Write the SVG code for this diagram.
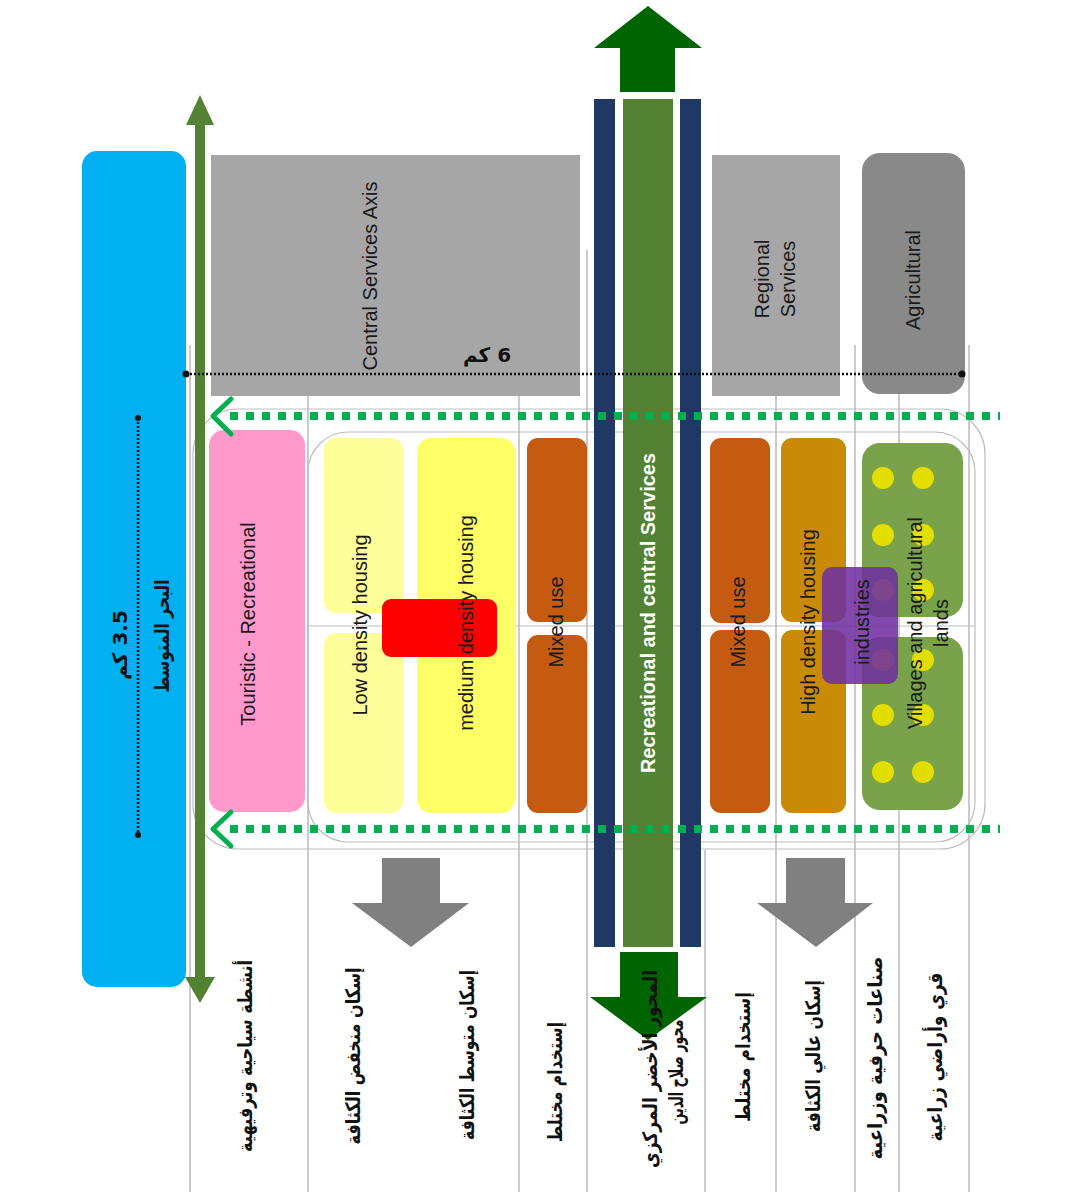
<svg xmlns="http://www.w3.org/2000/svg" width="1080" height="1201" viewBox="0 0 1080 1201">
<style>
.lbl{font-family:"Liberation Sans",Arial,sans-serif;font-size:20px;fill:#1a1a1a;text-anchor:middle;dominant-baseline:central}
.ar{font-family:"DejaVu Sans","Noto Sans",sans-serif;font-weight:bold;font-size:20px;fill:#111;text-anchor:middle;dominant-baseline:central}
.div{stroke:#a8a8a8;stroke-width:1.2;fill:none}
.outl{stroke:#bdbdbd;stroke-width:1.2;fill:none}
.gdot{stroke:#00b050;stroke-width:8;stroke-dasharray:8 8;fill:none}
.chev{stroke:#00b050;stroke-width:5;stroke-linecap:round;stroke-linejoin:round;fill:none}
.mixed{fill:#c55a11}
.high{fill:#c98a06}
.vil{fill:#79a24a}
.dot{fill:#e2df00}
.garrow{fill:#808080}
</style>
<rect width="1080" height="1201" fill="#ffffff"/>

<!-- column dividers -->
<g id="dividers">
<line class="div" x1="190" y1="345" x2="190" y2="1192"/>
<line class="div" x1="308" y1="345" x2="308" y2="1192"/>
<line class="div" x1="519" y1="345" x2="519" y2="1192"/>
<line class="div" x1="587" y1="250" x2="587" y2="1192"/>
<line class="div" x1="705" y1="850" x2="705" y2="1192"/>
<line class="div" x1="776" y1="345" x2="776" y2="1192"/>
<line class="div" x1="855" y1="345" x2="855" y2="1192"/>
<line class="div" x1="899" y1="345" x2="899" y2="1192"/>
<line class="div" x1="969" y1="345" x2="969" y2="1192"/>
</g>

<g id="outlines">
<rect class="outl" x="193" y="409" width="792" height="440" rx="45"/>
<rect class="outl" x="308" y="432" width="667" height="410" rx="40"/>
<line class="outl" x1="308" y1="626" x2="975" y2="626"/>
</g>

<g id="sea">
<rect x="82" y="151" width="104" height="836" rx="15" fill="#00b0f0"/>
<line x1="138" y1="418" x2="138" y2="835" stroke="#111" stroke-width="2.5" stroke-dasharray="2 2"/>
<circle cx="138" cy="418" r="3" fill="#111"/>
<circle cx="138" cy="835" r="3" fill="#111"/>
<text class="ar" font-size="22" direction="rtl" transform="translate(120,645) rotate(-90)">3.5 كم</text>
<text class="ar" font-size="18" textLength="113" lengthAdjust="spacingAndGlyphs" transform="translate(162,636) rotate(-90)">البحر المتوسط</text>
</g>

<g id="coast-arrow">
<rect x="195" y="122" width="10" height="858" fill="#548235"/>
<polygon points="200,95 214,125 186,125" fill="#548235"/>
<polygon points="200,1003 215,977 185,977" fill="#548235"/>
</g>

<g id="central-services-axis">
<rect x="211" y="155" width="369" height="241" fill="#a6a6a6"/>
<text class="lbl" transform="translate(370,276) rotate(-90)">Central Services Axis</text>
</g>

<g id="regional-services">
<rect x="712" y="155" width="128" height="241" fill="#a6a6a6"/>
<text class="lbl" transform="translate(762,279) rotate(-90)">Regional</text>
<text class="lbl" transform="translate(788,279) rotate(-90)">Services</text>
</g>

<g id="agricultural">
<rect x="862" y="153" width="103" height="241" rx="18" fill="#898989"/>
<text class="lbl" transform="translate(913,280) rotate(-90)">Agricultural</text>
</g>

<g id="green-axis">
<rect x="594" y="99" width="21" height="848" fill="#1f3864"/>
<rect x="623" y="99" width="50" height="848" fill="#548235"/>
<rect x="680" y="99" width="21" height="848" fill="#1f3864"/>
<polygon points="648,6 702,48 675,48 675,92 620,92 620,48 594,48" fill="#006400"/>
<polygon points="620,952 678,952 678,997 707,997 648,1040 590,997 620,997" fill="#006400"/>
<text class="lbl" font-weight="bold" font-size="17.5" style="fill:#ffffff" transform="translate(648,613) rotate(-90)">Recreational and central Services</text>
</g>

<g id="dimension-6km">
<line x1="186" y1="374" x2="962" y2="374" stroke="#111" stroke-width="2.5" stroke-dasharray="2 2"/>
<circle cx="186" cy="374" r="3.5" fill="#111"/>
<circle cx="962" cy="374" r="3.5" fill="#111"/>
<text class="ar" font-size="24" direction="rtl" x="487" y="355">6 كم</text>
</g>

<g id="touristic">
<rect x="209" y="430" width="96" height="382" rx="15" fill="#ff99cc"/>
<text class="lbl" transform="translate(248,624) rotate(-90)">Touristic - Recreational</text>
</g>

<g id="low-density">
<rect x="324" y="438" width="79" height="175" rx="12" fill="#ffff99"/>
<rect x="324" y="633" width="79" height="180" rx="12" fill="#ffff99"/>
</g>

<g id="medium-density">
<rect x="417" y="438" width="98" height="375" rx="14" fill="#ffff66"/>
</g>

<g id="red-block">
<rect x="382" y="599" width="115" height="58" rx="9" fill="#ff0000"/>
</g>
<text class="lbl" transform="translate(360,625) rotate(-90)">Low density housing</text>
<text class="lbl" transform="translate(466,623) rotate(-90)">medium density housing</text>

<g id="mixed-left">
<rect class="mixed" x="527" y="438" width="60" height="184" rx="11"/>
<rect class="mixed" x="527" y="635" width="60" height="178" rx="11"/>
<text class="lbl" transform="translate(556,622) rotate(-90)">Mixed use</text>
</g>

<g id="mixed-right">
<rect class="mixed" x="710" y="438" width="60" height="185" rx="11"/>
<rect class="mixed" x="710" y="630" width="60" height="183" rx="11"/>
</g>

<g id="high-density">
<rect class="high" x="781" y="438" width="65" height="184" rx="11"/>
<rect class="high" x="781" y="630" width="65" height="183" rx="11"/>
</g>

<g id="villages">
<rect class="vil" x="862" y="443" width="101" height="174" rx="18"/>
<rect class="vil" x="862" y="637" width="101" height="173" rx="18"/>
<circle class="dot" cx="883" cy="478" r="11"/><circle class="dot" cx="923" cy="478" r="11"/>
<circle class="dot" cx="883" cy="535" r="11"/><circle class="dot" cx="923" cy="535" r="11"/>
<circle class="dot" cx="883" cy="590" r="11"/><circle class="dot" cx="923" cy="590" r="11"/>
<circle class="dot" cx="883" cy="660" r="11"/><circle class="dot" cx="923" cy="660" r="11"/>
<circle class="dot" cx="883" cy="715" r="11"/><circle class="dot" cx="923" cy="715" r="11"/>
<circle class="dot" cx="883" cy="772" r="11"/><circle class="dot" cx="923" cy="772" r="11"/>
</g>

<g id="industries">
<rect x="822" y="567" width="76" height="117" rx="10" fill="#7030a0" fill-opacity="0.88"/>
</g>
<text class="lbl" transform="translate(738,622) rotate(-90)">Mixed use</text>
<text class="lbl" transform="translate(808,622) rotate(-90)">High density housing</text>
<text class="lbl" transform="translate(862,622) rotate(-90)">industries</text>
<text class="lbl" transform="translate(915,623) rotate(-90)">Villages and agricultural</text>
<text class="lbl" transform="translate(941,623) rotate(-90)">lands</text>

<g id="connectors">
<line class="gdot" x1="230" y1="416" x2="1000" y2="416"/>
<line class="gdot" x1="230" y1="829" x2="1000" y2="829"/>
<polyline class="chev" points="231,399 213,416 231,434"/>
<polyline class="chev" points="231,812 213,829 231,846"/>
<polygon class="garrow" points="382,858 440,858 440,903 469,903 411,947 352,903 382,903"/>
<polygon class="garrow" points="786,858 845,858 845,903 873,903 816,947 757,903 786,903"/>
</g>

<g id="arabic-labels">
<text class="ar" textLength="192" lengthAdjust="spacingAndGlyphs" transform="translate(245,1056) rotate(-90)">أنشطة سياحية وترفيهية</text>
<text class="ar" textLength="177" lengthAdjust="spacingAndGlyphs" transform="translate(353,1056) rotate(-90)">إسكان منخفض الكثافة</text>
<text class="ar" textLength="170" lengthAdjust="spacingAndGlyphs" transform="translate(467,1055) rotate(-90)">إسكان متوسط الكثافة</text>
<text class="ar" textLength="120" lengthAdjust="spacingAndGlyphs" transform="translate(555,1082) rotate(-90)">إستخدام مختلط</text>
<text class="ar" textLength="198" lengthAdjust="spacingAndGlyphs" transform="translate(650,1069) rotate(-90)">المحور الأخضر المركزي</text>
<text class="ar" font-size="13" textLength="105" lengthAdjust="spacingAndGlyphs" transform="translate(676,1072) rotate(-90)">محور صلاح الدين</text>
<text class="ar" textLength="130" lengthAdjust="spacingAndGlyphs" transform="translate(743,1057) rotate(-90)">إستخدام مختلط</text>
<text class="ar" textLength="152" lengthAdjust="spacingAndGlyphs" transform="translate(813,1056) rotate(-90)">إسكان عالي الكثافة</text>
<text class="ar" textLength="203" lengthAdjust="spacingAndGlyphs" transform="translate(875,1058) rotate(-90)">صناعات حرفية وزراعية</text>
<text class="ar" textLength="169" lengthAdjust="spacingAndGlyphs" transform="translate(935,1057) rotate(-90)">قري وأراضي زراعية</text>
</g>
</svg>
